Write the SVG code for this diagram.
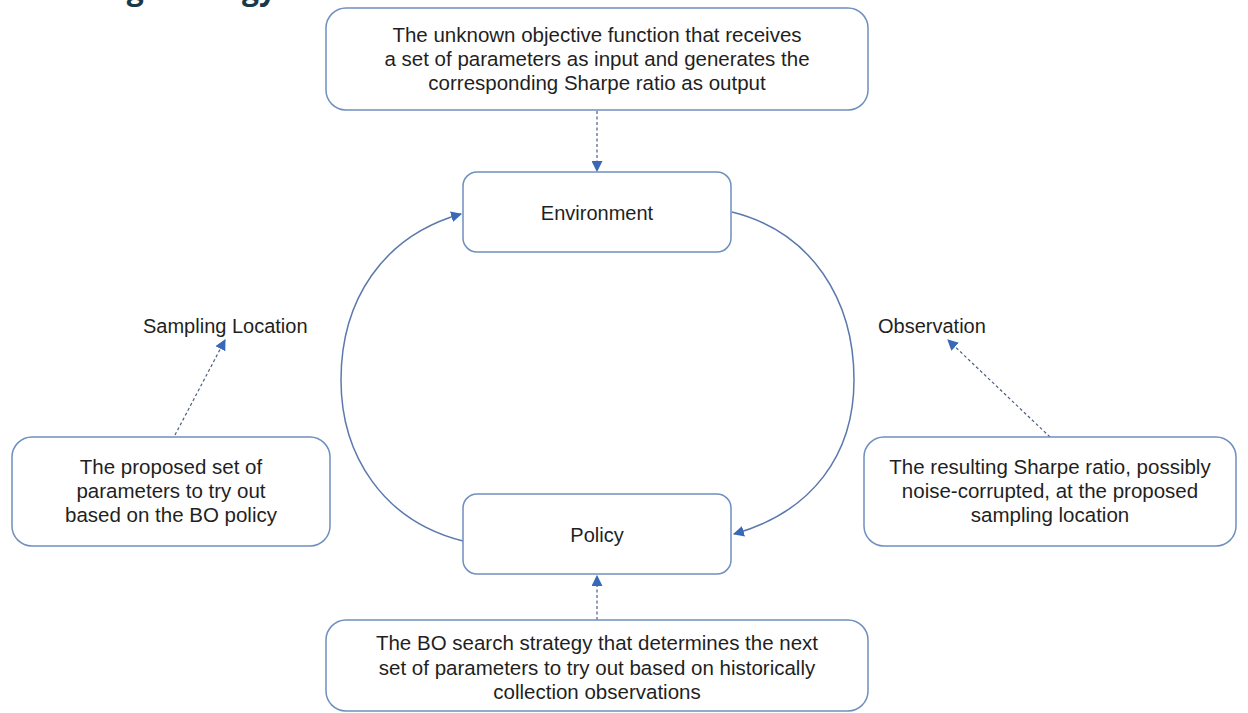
<svg xmlns="http://www.w3.org/2000/svg" width="1248" height="713" viewBox="0 0 1248 713">
<style>
.box{fill:#ffffff;stroke:#6f8fbf;stroke-width:1.5}
.t{font-family:"Liberation Sans",Arial,sans-serif;font-size:20.5px;fill:#1f1f1f;text-anchor:middle}
.n{font-family:"Liberation Sans",Arial,sans-serif;font-size:20px;fill:#1f1f1f;text-anchor:middle}
.lbl{font-family:"Liberation Sans",Arial,sans-serif;font-size:20px;fill:#1f1f1f}
.arc{fill:none;stroke:#5b79ad;stroke-width:1.5}
.dash{fill:none;stroke:#4a5f80;stroke-width:1.2;stroke-dasharray:3 2.5}
.title{font-family:"Open Sans","DejaVu Sans",sans-serif;font-weight:bold;font-size:30px;fill:#17394a}
</style>
<defs>
<marker id="ah" viewBox="0 0 10 10" refX="9" refY="5" markerWidth="11" markerHeight="11" markerUnits="userSpaceOnUse" orient="auto">
<path d="M0,0 L10,5 L0,10 z" fill="#3a68b8"/>
</marker>
</defs>
<rect width="1248" height="713" fill="#ffffff"/>
<text class="title" x="276" y="0" text-anchor="end">ing strategy</text>

<g id="connectors">
<path class="dash" d="M597,111 L597,171" marker-end="url(#ah)"/>
<path class="dash" d="M597,620 L597,576" marker-end="url(#ah)"/>
<path class="dash" d="M175,435 L225,340" marker-end="url(#ah)"/>
<path class="dash" d="M1050,437 L948,340" marker-end="url(#ah)"/>
<path class="arc" d="M732,212 C812,232 854,300 854,380 C854,455 812,512 734,534" marker-end="url(#ah)"/>
<path class="arc" d="M463,541 C383,521 341,455 341,380 C341,300 383,236 461,214" marker-end="url(#ah)"/>
</g>

<g id="objective">
<rect class="box" x="326" y="8" width="542" height="102" rx="20"/>
<text class="t" x="597" y="42">The unknown objective function that receives</text>
<text class="t" x="597" y="66">a set of parameters as input and generates the</text>
<text class="t" x="597" y="90">corresponding Sharpe ratio as output</text>
</g>

<g id="environment">
<rect class="box" x="463" y="172" width="268" height="80" rx="14"/>
<text class="n" x="597" y="220">Environment</text>
</g>

<g id="policy">
<rect class="box" x="463" y="494" width="268" height="80" rx="14"/>
<text class="n" x="597" y="542">Policy</text>
</g>

<g id="proposed">
<rect class="box" x="12" y="437" width="318" height="109" rx="20"/>
<text class="t" x="171" y="474">The proposed set of</text>
<text class="t" x="171" y="498">parameters to try out</text>
<text class="t" x="171" y="522">based on the BO policy</text>
</g>

<g id="resulting">
<rect class="box" x="864" y="437" width="372" height="109" rx="20"/>
<text class="t" x="1050" y="474">The resulting Sharpe ratio, possibly</text>
<text class="t" x="1050" y="498">noise-corrupted, at the proposed</text>
<text class="t" x="1050" y="522">sampling location</text>
</g>

<g id="strategy">
<rect class="box" x="326" y="620" width="542" height="91" rx="20"/>
<text class="t" x="597" y="650">The BO search strategy that determines the next</text>
<text class="t" x="597" y="675">set of parameters to try out based on historically</text>
<text class="t" x="597" y="699">collection observations</text>
</g>

<g id="sampling-location">
<text class="lbl" x="143" y="333">Sampling Location</text>
</g>
<g id="observation">
<text class="lbl" x="878" y="333">Observation</text>
</g>
</svg>
